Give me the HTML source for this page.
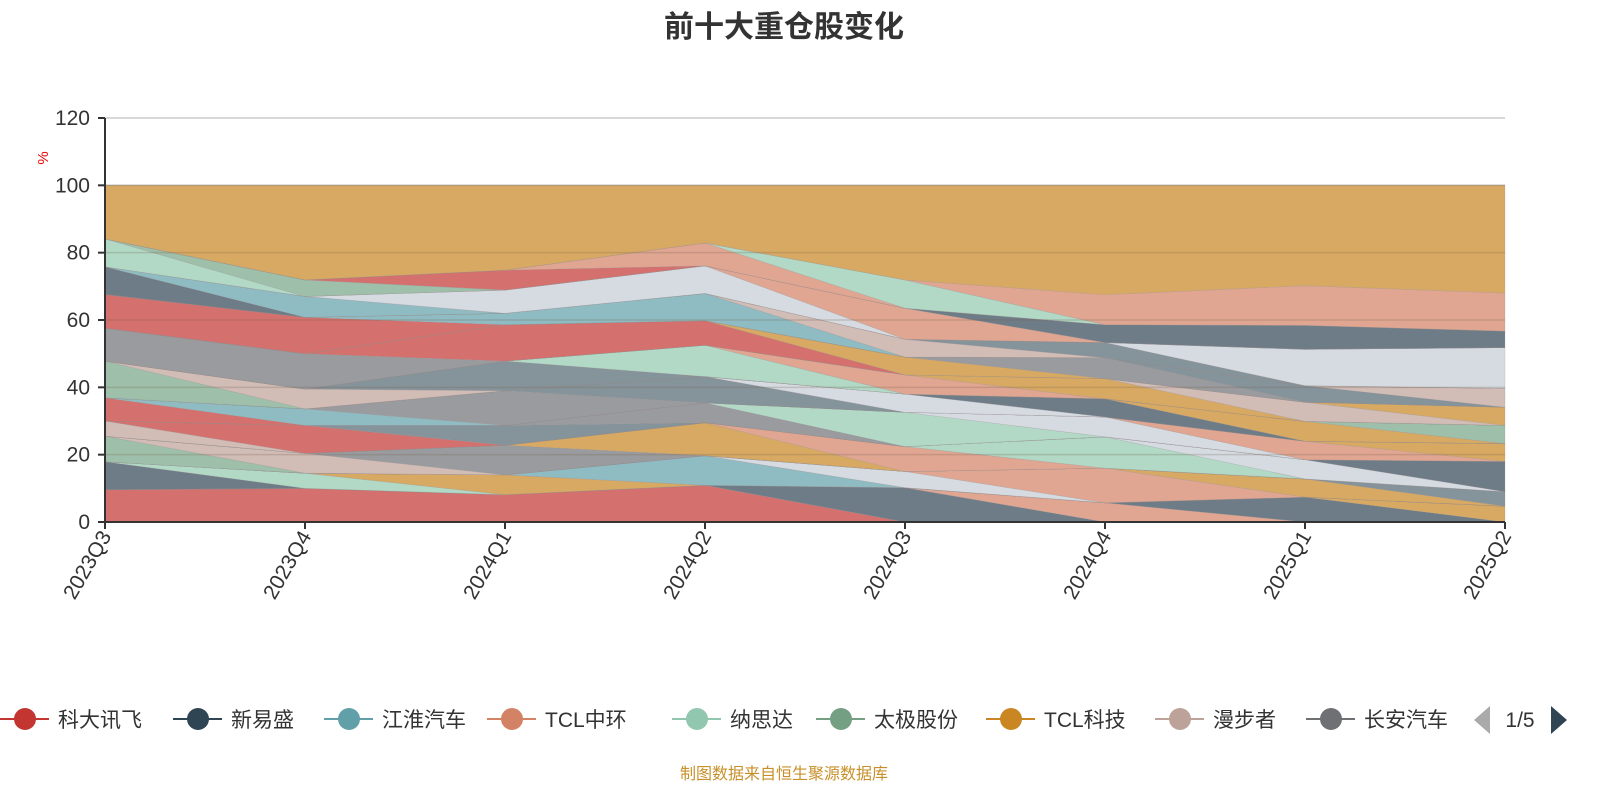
<!DOCTYPE html>
<html><head><meta charset="utf-8"><style>
body{margin:0;background:#fff;font-family:"Liberation Sans","Noto Sans CJK SC",sans-serif}
svg{display:block}
</style></head><body>
<svg id="c" width="1600" height="800">
<text x="784" y="37" text-anchor="middle" font-size="30" font-weight="bold" fill="#333" font-family="Liberation Sans,Noto Sans CJK SC,sans-serif">前十大重仓股变化</text>
<g id="grid"></g>
<g id="areas"></g>
<g id="axes"></g>
<text x="0" y="0" transform="translate(48,158) rotate(-90)" text-anchor="middle" font-size="15" fill="#e00">%</text>
<g id="legend"></g>
<text x="784" y="779" text-anchor="middle" font-size="16" fill="#c8902a" font-family="Liberation Sans,Noto Sans CJK SC,sans-serif">制图数据来自恒生聚源数据库</text>
</svg>
<script>
const categories=["2023Q3","2023Q4","2024Q1","2024Q2","2024Q3","2024Q4","2025Q1","2025Q2"];
const yTicks=[0,20,40,60,80,100,120];
const slot1Colors=["R","R","R","R","S","P","S","O"], slot1Values=[9.6,10,8.1,10.9,10.2,5.7,7.4,4.7];
const slot2Colors=["S","M","O","T","L","P","O","Q"], slot2Values=[8.3,4.5,5.9,8.8,4.8,10.3,5.4,4.3];
const slot3Colors=["G","B","Y","O","P","M","L","S"], slot3Values=[7.6,5.9,8.8,9.8,7.4,9.3,5.7,9];
const slot4Colors=["B","R","Q","Y","M","L","P","O"], slot4Values=[4.5,8.3,5.9,5.9,10.2,5.9,5.5,5.3];
const slot5Colors=["R","T","Y","Q","L","S","O","G"], slot5Values=[6.9,4.9,10.3,7.8,5.4,5.4,5.9,5.4];
const slot6Colors=["G","B","Q","M","P","O","B","O"], slot6Values=[10.9,5.9,8.8,9.3,5.7,6,5.7,5.4];
const slot7Colors=["Y","Y","R","R","O","Y","Q","B"], slot7Values=[9.8,10.5,10.8,7.3,5.3,6.2,4.9,5.6];
const slot8Colors=["R","R","T","T","B","Q","L","L"], slot8Values=[10,10.8,3.4,8.1,5.3,4.5,10.8,12.1];
const slot9Colors=["S","T","L","L","P","S","S","S"], slot9Values=[8.2,6.2,6.9,8.2,9.2,5.3,7.1,4.9];
const slot10Colors=["M","G","R","P","M","P","P","P"], slot10Values=[8.3,4.9,5.9,6.8,8.4,8.9,11.8,11.3];
const otherColors=["O","O","O","O","O","O","O","O"], otherValues=[15.9,28.1,25.2,17.1,28.1,32.5,29.8,32];
const palette={R:"#d4706d",S:"#6e7c87",G:"#9ebfa9",B:"#d1bcb6",M:"#b1d9c6",Y:"#9a9b9e",T:"#8fbcc3",O:"#d8a962",Q:"#85939a",L:"#d6dbe2",P:"#e0a692"};
const slots=[[slot1Colors,slot1Values],[slot2Colors,slot2Values],[slot3Colors,slot3Values],[slot4Colors,slot4Values],[slot5Colors,slot5Values],[slot6Colors,slot6Values],[slot7Colors,slot7Values],[slot8Colors,slot8Values],[slot9Colors,slot9Values],[slot10Colors,slot10Values],[otherColors,otherValues]];
const legendNames=["科大讯飞","新易盛","江淮汽车","TCL中环","纳思达","太极股份","TCL科技","漫步者","长安汽车"];
const legendColors=["#c23531","#2f4554","#61a0a8","#d48265","#91c7ae","#749f83","#ca8622","#bda29a","#6e7074"];

const NS="http://www.w3.org/2000/svg";
const X0=105,X1=1505,Y0=522,Y1=118,YMAX=120;
const xs=i=>X0+i*(X1-X0)/(categories.length-1);
const ys=v=>Y0-v*(Y0-Y1)/YMAX;
function mk(tag,attrs,parent){const e=document.createElementNS(NS,tag);for(const k in attrs)e.setAttribute(k,attrs[k]);parent.appendChild(e);return e;}
const grid=document.getElementById('grid'),areas=document.getElementById('areas'),axes=document.getElementById('axes');
yTicks.forEach(t=>{
  if(t>0){const l=mk('line',{x1:X0,x2:X1,y1:ys(t),y2:ys(t),stroke:'#ccc','stroke-width':1.5},grid);
  
  }
  const tk=mk('line',{x1:X0-7,x2:X0,y1:ys(t),y2:ys(t),stroke:'#333','stroke-width':2},axes);
  
  
  const tx=mk('text',{x:X0-15,y:ys(t)+7,'text-anchor':'end','font-size':21,fill:'#333'},axes);
  tx.textContent=t;
  
  
});
// build series from slots: runs of same colour
const series=[];
slots.forEach(([cols,vals])=>{
  let i=0;
  while(i<cols.length){let j=i;while(j+1<cols.length&&cols[j+1]===cols[i])j++;
    const d=categories.map((_,k)=>(k>=i&&k<=j)?vals[k]:0);
    series.push({color:palette[cols[i]],data:d});i=j+1;}
});
const base=categories.map(()=>0);
series.forEach(s=>{
  const lo=base.slice();const hi=base.map((b,k)=>b+s.data[k]);
  let pts=hi.map((v,k)=>xs(k)+','+ys(v));
  for(let k=lo.length-1;k>=0;k--)pts.push(xs(k)+','+ys(lo[k]));
  const p=mk('polygon',{points:pts.join(' '),fill:s.color,stroke:'rgba(150,140,140,0.35)','stroke-width':0.6},areas);
  
  
  hi.forEach((v,k)=>base[k]=v);
});
// gridlines over areas (faint)
yTicks.forEach(t=>{if(t>0&&t<120){const l=mk('line',{x1:X0,x2:X1,y1:ys(t),y2:ys(t),stroke:'rgba(120,100,80,0.25)','stroke-width':1.5},areas);

}});
const ya=mk('line',{x1:X0,x2:X0,y1:Y1,y2:Y0,stroke:'#333','stroke-width':2},axes);


const xa=mk('line',{x1:X0,x2:X1,y1:Y0,y2:Y0,stroke:'#333','stroke-width':2},axes);


categories.forEach((c,i)=>{
  const tk=mk('line',{x1:xs(i),x2:xs(i),y1:Y0,y2:Y0+7,stroke:'#333','stroke-width':2},axes);
  
  
  const t=mk('text',{x:0,y:0,transform:`translate(${xs(i)+7},${Y0+14}) rotate(-60)`,'text-anchor':'end','font-size':21,fill:'#333'},axes);
  t.textContent=c;
  
  
});
const lg=document.getElementById('legend');
const lx=[0,173,324,487,672,816,986,1155,1306];
legendNames.forEach((n,i)=>{
  const g=mk('g',{},lg);
  
  
  mk('line',{x1:lx[i],x2:lx[i]+49,y1:719,y2:719,stroke:legendColors[i],'stroke-width':2},g);
  mk('circle',{cx:lx[i]+25,cy:719,r:11,fill:legendColors[i]},g);
  const t=mk('text',{x:lx[i]+58,y:727,'font-size':21,fill:'#333'},g);
  t.textContent=n;
});
const al=mk('polygon',{points:'1490,706 1490,734 1474,720',fill:'#aaa'},lg);


const pg=mk('text',{x:1520,y:727,'text-anchor':'middle','font-size':21,fill:'#333'},lg);
pg.textContent='1/5';


const ar=mk('polygon',{points:'1551,706 1551,734 1567,720',fill:'#2f4554'},lg);


</script>
</body></html>
